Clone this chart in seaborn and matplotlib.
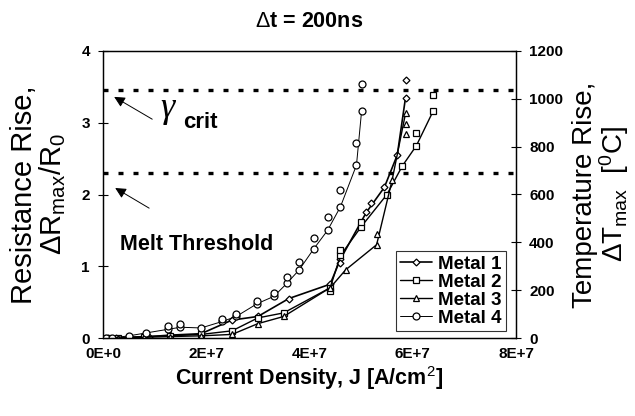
import matplotlib
matplotlib.use("Agg")
import matplotlib.pyplot as plt
import seaborn as sns
import pandas as pd
import numpy as np

sns.set_theme(style="white")
plt.rcParams['font.family'] = ['Liberation Sans', 'DejaVu Sans']
plt.rcParams['mathtext.fontset'] = 'custom'
plt.rcParams['mathtext.rm'] = 'Liberation Sans'
plt.rcParams['mathtext.it'] = 'Liberation Sans'
plt.rcParams['mathtext.bf'] = 'Liberation Sans:bold'
for k in ['text.color', 'axes.labelcolor', 'xtick.color', 'ytick.color', 'axes.edgecolor']:
    plt.rcParams[k] = 'black'

# ---- data (J in units of 1e7 A/cm^2, R = dR_max/R0) ----
m1_j = [0.1, 0.25, 0.5, 0.9, 1.3, 1.9, 2.5, 3.0, 3.6, 4.4, 4.6, 5.1, 5.45, 5.7, 5.86]
m1_r = [0.0, 0.0, 0.01, 0.02, 0.04, 0.06, 0.25, 0.30, 0.55, 0.75, 1.10, 1.75, 2.10, 2.55, 3.35]
m1_xj = [4.6, 5.2, 5.86]
m1_xr = [1.05, 1.88, 3.60]

m2_j = [0.1, 0.3, 0.8, 1.3, 1.9, 2.5, 3.0, 3.5, 4.4, 4.6, 5.0, 5.5, 5.8, 6.07, 6.4]
m2_r = [0.0, 0.0, 0.02, 0.03, 0.05, 0.10, 0.28, 0.35, 0.70, 1.15, 1.55, 2.00, 2.40, 2.68, 3.17]
m2_xj = [4.4, 4.6, 5.0, 6.07, 6.4]
m2_xr = [0.65, 1.22, 1.62, 2.86, 3.39]

m3_j = [0.1, 0.3, 0.8, 1.3, 1.9, 2.5, 3.0, 3.5, 4.4, 4.7, 5.3, 5.6, 5.86]
m3_r = [0.0, 0.0, 0.01, 0.02, 0.03, 0.05, 0.20, 0.30, 0.70, 0.95, 1.30, 2.20, 3.13]
m3_xj = [5.3, 5.86, 5.86]
m3_xr = [1.45, 2.85, 2.98]

m4_j = [0.06, 0.17, 0.5, 0.83, 1.25, 1.5, 1.9, 2.31, 2.58, 2.99, 3.31, 3.56, 3.80, 4.08, 4.35, 4.60, 4.91, 5.01]
m4_r = [0.0, 0.0, 0.03, 0.07, 0.12, 0.15, 0.14, 0.23, 0.30, 0.48, 0.58, 0.76, 0.95, 1.24, 1.50, 1.83, 2.41, 3.17]
m4_xj = [1.25, 1.5, 2.31, 2.58, 2.99, 3.31, 3.56, 3.80, 4.08, 4.35, 4.60, 4.91, 5.01]
m4_xr = [0.17, 0.20, 0.27, 0.34, 0.52, 0.63, 0.85, 1.06, 1.39, 1.68, 2.06, 2.72, 3.54]

names = ["Metal 1", "Metal 2", "Metal 3", "Metal 4"]
markers = ["D", "s", "^", "o"]
msizes = [3.5, 5, 5, 5]
lwidths = [1.2, 1.0, 1.0, 0.7]

gamma_crit = 3.45
melt = 2.3

xticks = [0, 2, 4, 6, 8]
xticklabels = ["0E+0", "2E+7", "4E+7", "6E+7", "8E+7"]
yticks = [0, 1, 2, 3, 4]
rticks = [0, 200, 400, 600, 800, 1000, 1200]

lines = [(m1_j, m1_r), (m2_j, m2_r), (m3_j, m3_r), (m4_j, m4_r)]
extras = [(m1_xj, m1_xr), (m2_xj, m2_xr), (m3_xj, m3_xr), (m4_xj, m4_xr)]

fig = plt.figure(figsize=(6.35, 4.16), dpi=100)
ax = fig.add_axes([103/635, 1-338/416, (516-103)/635, (338-51)/416])

for i, (name, (jj, rr)) in enumerate(zip(names, lines)):
    df = pd.DataFrame({"J": jj, "R": rr})
    sns.lineplot(data=df, x="J", y="R", ax=ax, sort=False, color="black",
                 lw=lwidths[i], marker=markers[i], ms=msizes[i], mfc="white",
                 mec="black", mew=0.9, label=name, estimator=None)
    ej, er = extras[i]
    ax.plot(ej, er, linestyle="none", marker=markers[i], ms=msizes[i],
            mfc="white", mec="black", mew=0.9)

ax.axhline(gamma_crit, color="black", lw=2.4, ls=(0, (1.5, 3.0)))
ax.axhline(melt, color="black", lw=2.4, ls=(0, (1.5, 3.0)))

ax.set_xlim(0, 8)
ax.set_ylim(0, 4)
ax.set_xticks(xticks)
ax.set_xticklabels(xticklabels)
ax.set_yticks(yticks)
for lbl in ax.get_xticklabels() + ax.get_yticklabels():
    lbl.set_fontweight("bold")
    lbl.set_fontsize(11)
ax.tick_params(axis="y", direction="inout", length=7, width=0.8, colors="black", pad=6)
ax.tick_params(axis="x", direction="inout", length=7, width=0.8, colors="black", pad=3)
for s in ax.spines.values():
    s.set_color("black")
    s.set_linewidth(0.9)

ax.set_xlabel("Current Density, J [A/cm$^2$]", fontsize=15.5, fontweight="bold", labelpad=2)
ax.set_ylabel("Resistance Rise,\n$\\Delta$R$_{\\mathrm{max}}$/R$_0$", fontsize=21, linespacing=0.95)
ax.yaxis.set_label_coords(-0.085, 0.5)
ax.set_title("$\\Delta$t = 200ns", fontsize=15.5, fontweight="bold", pad=17)

ax2 = ax.twinx()
ax2.set_ylim(0, 1200)
ax2.set_yticks(rticks)
for lbl in ax2.get_yticklabels():
    lbl.set_fontweight("bold")
    lbl.set_fontsize(11)
ax2.tick_params(axis="y", direction="inout", length=7, width=0.8, colors="black", pad=6)
ax2.set_ylabel("Temperature Rise,\n$\\Delta$T$_{\\mathrm{max}}$  [$^0$C]", fontsize=20,
               linespacing=0.95, rotation=90)
ax2.yaxis.set_label_coords(1.136, 0.5)
for s in ax2.spines.values():
    s.set_color("black")
    s.set_linewidth(0.9)

# annotations
ax.annotate("", xy=(0.17, 3.38), xytext=(1.0, 3.03),
            arrowprops=dict(arrowstyle="-|>", color="black", lw=0.7, mutation_scale=16))
ax.text(1.12, 3.08, "γ", fontsize=26, va="baseline", ha="left",
        family=["Liberation Serif", "DejaVu Serif"], style="italic")
ax.text(1.55, 2.92, "crit", fontsize=16, fontweight="bold", va="baseline", ha="left")
ax.annotate("", xy=(0.19, 2.11), xytext=(0.94, 1.79),
            arrowprops=dict(arrowstyle="-|>", color="black", lw=0.7, mutation_scale=16))
ax.text(0.33, 1.31, "Melt Threshold", fontsize=15.5, fontweight="bold", va="center", ha="left")

leg = ax.legend(loc="lower right", bbox_to_anchor=(0.985, 0.01), frameon=True, fancybox=False,
                edgecolor="black", handlelength=1.7, handletextpad=0.3,
                borderpad=0.25, labelspacing=0.05, borderaxespad=0.2,
                prop={"weight": "bold", "size": 13.5})
leg.get_frame().set_linewidth(0.8)

fig.savefig("out.png", dpi=100)
